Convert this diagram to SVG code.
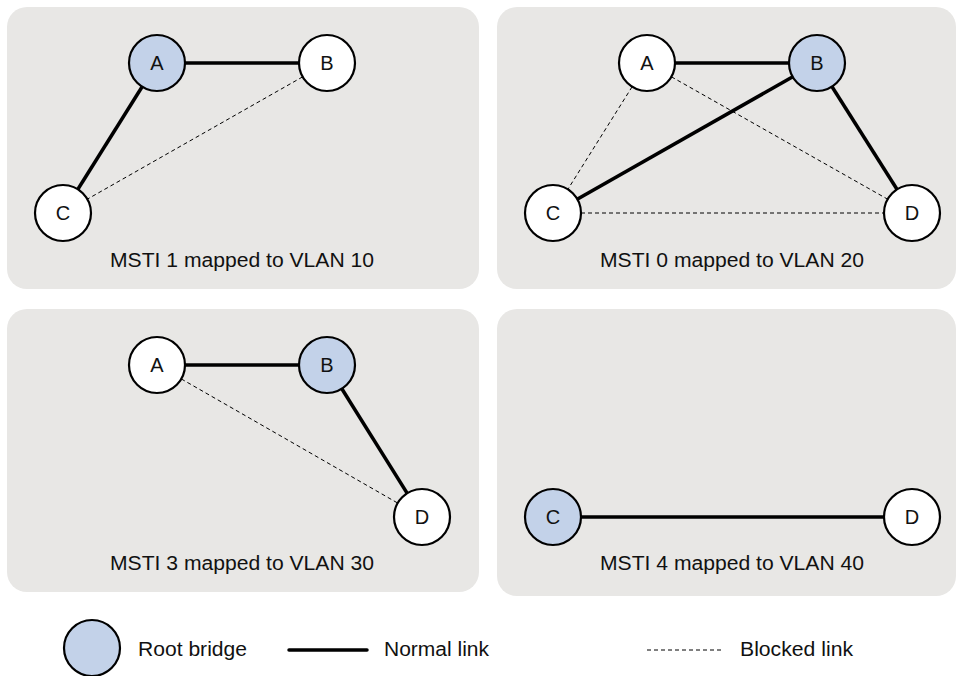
<svg xmlns="http://www.w3.org/2000/svg" width="957" height="676" viewBox="0 0 957 676">
<style>
.panel{fill:#e8e7e5;stroke:none}
.node{stroke:#000;stroke-width:2.2}
.root{fill:#c3d2e9}
.plain{fill:#fff}
.lbl{font-family:"Liberation Sans",Arial,sans-serif;font-size:20px;fill:#111;text-anchor:middle}
.cap{font-family:"Liberation Sans",Arial,sans-serif;font-size:20px;fill:#111;text-anchor:middle}
.leg{font-family:"Liberation Sans",Arial,sans-serif;font-size:20px;fill:#111}
.normal{stroke:#000;stroke-width:3.5;fill:none}
.blocked{stroke:#000;stroke-width:1;stroke-dasharray:4 3;fill:none}
</style>
<g id="panels">
<rect class="panel" x="7" y="7" width="472" height="282" rx="20"/>
<rect class="panel" x="497" y="7" width="459" height="282" rx="20"/>
<rect class="panel" x="7" y="309" width="472" height="283" rx="20"/>
<rect class="panel" x="497" y="309" width="459" height="287" rx="20"/>
</g>
<g id="connectors">
<line class="normal" x1="157" y1="63" x2="327" y2="63"/>
<line class="normal" x1="157" y1="63" x2="63" y2="213"/>
<line class="blocked" x1="327" y1="63" x2="63" y2="213"/>
<line class="normal" x1="647" y1="63" x2="817" y2="63"/>
<line class="normal" x1="817" y1="63" x2="553" y2="213"/>
<line class="normal" x1="817" y1="63" x2="912" y2="213"/>
<line class="blocked" x1="647" y1="63" x2="553" y2="213"/>
<line class="blocked" x1="647" y1="63" x2="912" y2="213"/>
<line class="blocked" x1="553" y1="213" x2="912" y2="213"/>
<line class="normal" x1="157" y1="365" x2="327" y2="365"/>
<line class="normal" x1="327" y1="365" x2="422" y2="517"/>
<line class="blocked" x1="157" y1="365" x2="422" y2="517"/>
<line class="normal" x1="553" y1="517" x2="912" y2="517"/>
</g>
<g id="p1-A"><circle class="node root" cx="157" cy="63" r="28"/><text class="lbl" x="157" y="70">A</text></g>
<g id="p1-B"><circle class="node plain" cx="327" cy="63" r="28"/><text class="lbl" x="327" y="70">B</text></g>
<g id="p1-C"><circle class="node plain" cx="63" cy="213" r="28"/><text class="lbl" x="63" y="220">C</text></g>
<g id="p2-A"><circle class="node plain" cx="647" cy="63" r="28"/><text class="lbl" x="647" y="70">A</text></g>
<g id="p2-B"><circle class="node root" cx="817" cy="63" r="28"/><text class="lbl" x="817" y="70">B</text></g>
<g id="p2-C"><circle class="node plain" cx="553" cy="213" r="28"/><text class="lbl" x="553" y="220">C</text></g>
<g id="p2-D"><circle class="node plain" cx="912" cy="213" r="28"/><text class="lbl" x="912" y="220">D</text></g>
<g id="p3-A"><circle class="node plain" cx="157" cy="365" r="28"/><text class="lbl" x="157" y="372">A</text></g>
<g id="p3-B"><circle class="node root" cx="327" cy="365" r="28"/><text class="lbl" x="327" y="372">B</text></g>
<g id="p3-D"><circle class="node plain" cx="422" cy="517" r="28"/><text class="lbl" x="422" y="524">D</text></g>
<g id="p4-C"><circle class="node root" cx="553" cy="517" r="28"/><text class="lbl" x="553" y="524">C</text></g>
<g id="p4-D"><circle class="node plain" cx="912" cy="517" r="28"/><text class="lbl" x="912" y="524">D</text></g>
<g id="captions">
<text class="cap" x="242" y="267" textLength="264" lengthAdjust="spacingAndGlyphs">MSTI 1 mapped to VLAN 10</text>
<text class="cap" x="732" y="267" textLength="264" lengthAdjust="spacingAndGlyphs">MSTI 0 mapped to VLAN 20</text>
<text class="cap" x="242" y="570" textLength="264" lengthAdjust="spacingAndGlyphs">MSTI 3 mapped to VLAN 30</text>
<text class="cap" x="732" y="570" textLength="264" lengthAdjust="spacingAndGlyphs">MSTI 4 mapped to VLAN 40</text>
</g>
<g id="legend">
<circle class="node root" cx="92" cy="648" r="28"/>
<text class="leg" x="138" y="656" textLength="109" lengthAdjust="spacingAndGlyphs">Root bridge</text>
<line class="normal" x1="289" y1="650" x2="367" y2="650" stroke-linecap="round"/>
<text class="leg" x="384" y="656" textLength="105" lengthAdjust="spacingAndGlyphs">Normal link</text>
<line class="blocked" x1="647" y1="650" x2="721" y2="650"/>
<text class="leg" x="740" y="656" textLength="113" lengthAdjust="spacingAndGlyphs">Blocked link</text>
</g>
</svg>
